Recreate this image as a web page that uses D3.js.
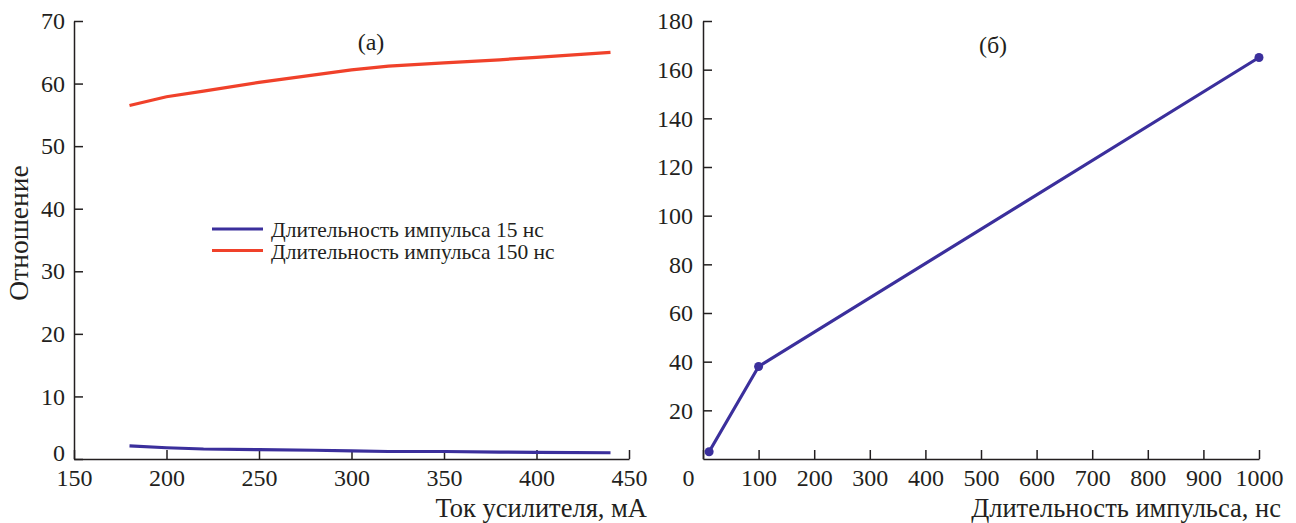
<!DOCTYPE html>
<html lang="en">
  <head>
    <meta charset="utf-8" />
    <title>Ratio vs current and pulse duration</title>
    <script src="https://d3js.org/d3.v7.min.js"></script>
    <style type="text/css">
      body { margin: 0; background: #fff; }
      .axis path, .axis line { stroke: #231f20; stroke-width: 1.5; }
    </style>
  </head>
  <body>
    <script type="text/javascript">
      // (а) ratio vs amplifier current
      const current = [180, 200, 220, 250, 280, 300, 320, 350, 380, 400, 440];
      const ratio15 = [2.1, 1.8, 1.6, 1.5, 1.4, 1.3, 1.2, 1.2, 1.1, 1.05, 1.0];
      const ratio150 = [56.5, 57.9, 58.8, 60.2, 61.4, 62.2, 62.8, 63.3, 63.8, 64.2, 65.0];
      const seriesNames = ["Длительность импульса 15 нс", "Длительность импульса 150 нс"];
      const xTicksA = [150, 200, 250, 300, 350, 400, 450];
      const yTicksA = [0, 10, 20, 30, 40, 50, 60, 70];

      // (б) ratio vs pulse duration
      const duration = [11, 100, 1000];
      const ratioDur = [3, 38, 165];
      const xTicksB = [0, 100, 200, 300, 400, 500, 600, 700, 800, 900, 1000];
      const yTicksB = [20, 40, 60, 80, 100, 120, 140, 160, 180];

      const blue = "#3b2f9c";
      const red = "#f0412a";
      const fontName = "'Liberation Serif', Tinos, monospace";
      const ink = "#231f20";

      const w = 1296;
      const h = 523;
      const plotTop = 21;
      const plotBottom = 459;

      const svg = d3.select("body").append("svg")
        .attr("width", w).attr("height", h);

      function addText(x, y, size, anchor, str) {
        return svg.append("text")
          .attr("x", x).attr("y", y)
          .attr("text-anchor", anchor)
          .attr("fill", ink)
          .attr("font-family", fontName)
          .attr("font-size", size)
          .text(str);
      }

      function styleAxis(g) {
        g.selectAll("text")
          .attr("fill", ink)
          .attr("font-family", fontName)
          .attr("font-size", 24);
      }

      //Left panel
      const xA = d3.scaleLinear().domain([150, 450]).range([74, 629]);
      const yA = d3.scaleLinear().domain([0, 70]).range([plotBottom, plotTop]);

      svg.append("g")
        .attr("class", "axis")
        .attr("transform", "translate(0," + plotBottom + ")")
        .call(d3.axisBottom(xA).tickValues(xTicksA).tickSizeInner(-9).tickSizeOuter(0).tickPadding(10))
        .call(styleAxis);

      const yAxisA = svg.append("g")
        .attr("class", "axis")
        .attr("transform", "translate(" + xA(150) + ",0)")
        .call(d3.axisLeft(yA).tickValues(yTicksA).tickSizeInner(-9).tickSizeOuter(0).tickPadding(9))
        .call(styleAxis);
      // the "0" sits a little above the corner
      yAxisA.selectAll(".tick").filter(function (d) { return d === 0; })
        .select("text").attr("y", -6);

      const lineA = d3.line()
        .x(function (d) { return xA(d[0]); })
        .y(function (d) { return yA(d[1]); });

      [ratio15, ratio150].forEach(function (vals, i) {
        svg.append("path")
          .datum(d3.zip(current, vals))
          .attr("fill", "none")
          .attr("stroke", i === 0 ? blue : red)
          .attr("stroke-width", 3.2)
          .attr("d", lineA);
      });

      //Legend
      seriesNames.forEach(function (name, i) {
        svg.append("line")
          .attr("x1", 212).attr("x2", 263)
          .attr("y1", 229 + i * 21.5).attr("y2", 229 + i * 21.5)
          .attr("stroke", i === 0 ? blue : red)
          .attr("stroke-width", 3.2);
        addText(271, 237 + i * 21.5, 21.5, "start", name);
      });

      addText(371, 50, 24, "middle", "(а)");
      addText(647, 517, 26.5, "end", "Ток усилителя, мА");
      addText(0, 0, 27.5, "middle", "Отношение")
        .attr("x", null).attr("y", null)
        .attr("transform", "translate(28,233) rotate(-90)");

      //Right panel
      const xB = d3.scaleLinear().domain([0, 1000]).range([703, 1259]);
      const yB = d3.scaleLinear().domain([0, 180]).range([plotBottom, plotTop]);

      const xAxisB = svg.append("g")
        .attr("class", "axis")
        .attr("transform", "translate(0," + plotBottom + ")")
        .call(d3.axisBottom(xB).tickValues(xTicksB).tickFormat(d3.format("d"))
          .tickSizeInner(-9).tickSizeOuter(0).tickPadding(10))
        .call(styleAxis);
      // "0" sits left of the corner in the original
      xAxisB.selectAll(".tick").filter(function (d) { return d === 0; })
        .select("text").attr("x", -15);

      svg.append("g")
        .attr("class", "axis")
        .attr("transform", "translate(" + xB(0) + ",0)")
        .call(d3.axisLeft(yB).tickValues(yTicksB).tickSizeInner(-9).tickSizeOuter(0).tickPadding(10))
        .call(styleAxis);

      const ptsB = d3.zip(duration, ratioDur);

      svg.append("path")
        .datum(ptsB)
        .attr("fill", "none")
        .attr("stroke", blue)
        .attr("stroke-width", 3.2)
        .attr("d", d3.line()
          .x(function (d) { return xB(d[0]); })
          .y(function (d) { return yB(d[1]); }));

      svg.selectAll("circle.pt")
        .data(ptsB)
        .enter()
        .append("circle")
        .attr("class", "pt")
        .attr("cx", function (d) { return xB(d[0]); })
        .attr("cy", function (d) { return yB(d[1]); })
        .attr("r", 4.5)
        .attr("fill", blue);

      addText(993, 53, 24, "middle", "(б)");
      addText(1281, 517, 26.5, "end", "Длительность импульса, нс");
    </script>
  </body>
</html>
